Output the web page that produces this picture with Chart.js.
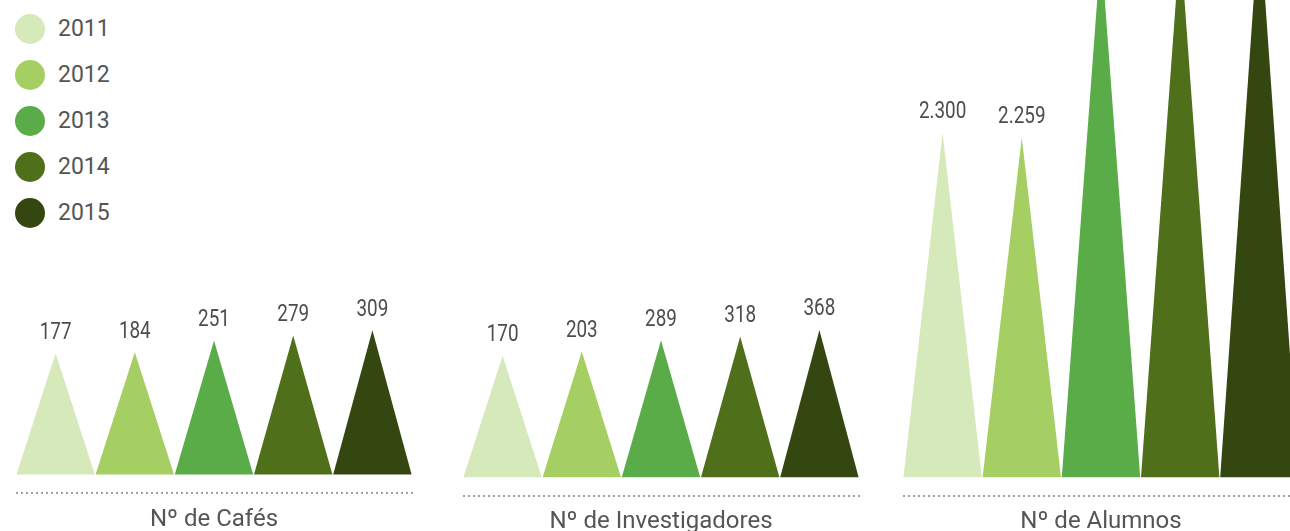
<!DOCTYPE html>
<html>
<head>
<meta charset="utf-8">
<script src="https://cdn.jsdelivr.net/npm/chart.js@4"></script>
<style>
  html, body { margin: 0; padding: 0; width: 1290px; height: 531px; overflow: hidden; background: #fff; font-family: Roboto, sans-serif; }
  .panel { position: absolute; top: 0; }
  #legend { position: absolute; left: 15px; top: 14px; }
  .item { display: flex; align-items: center; height: 30px; margin-bottom: 16px; }
  .dot { width: 30px; height: 30px; border-radius: 50%; margin-right: 13px; }
  .lbl { font-size: 23px; color: #555; line-height: 30px; }
</style>
</head>
<body>
<div id="legend"></div>
<canvas id="c0" class="panel" width="400" height="531"></canvas>
<canvas id="c1" class="panel" width="400" height="531"></canvas>
<canvas id="c2" class="panel" width="400" height="531"></canvas>
<script>
// ---- data ----
const years = ['2011', '2012', '2013', '2014', '2015'];
const yearColors = ['#d6e9ba', '#a5cf63', '#5aac48', '#506f1a', '#354710'];
const groupNames = ['Nº de Cafés', 'Nº de Investigadores', 'Nº de Alumnos'];
const cafes = [177, 184, 251, 279, 309];
const investigadores = [170, 203, 289, 318, 368];
const alumnos = [2300, 2259, 3900, 3960, 4170];
const groupValues = [cafes, investigadores, alumnos];

// ---- layout (per panel scales and positions) ----
const panels = [
  { left: 16,  yMin: -519, yMax: 2207, padTop: 31.1, padBottom: -3.4, lineOffset: 18.2 },
  { left: 463, yMin: -765, yMax: 2906, padTop: 30.3, padBottom: -5.4, lineOffset: 18.7 },
  { left: 903, yMin: -696, yMax: 3454, padTop: 30.3, padBottom: -5.4, lineOffset: 18.7 }
];

Chart.defaults.font.family = 'Roboto, sans-serif';

function fmt(v) {
  return String(v).replace(/\B(?=(\d{3})+(?!\d))/g, '.');
}

// legend
const legend = document.getElementById('legend');
years.forEach((y, i) => {
  const it = document.createElement('div');
  it.className = 'item';
  it.innerHTML = '<div class="dot" style="background:' + yearColors[i] + '"></div><div class="lbl">' + y + '</div>';
  legend.appendChild(it);
});

const trianglePlugin = {
  id: 'triangles',
  beforeDatasetDraw(chart, args) {
    const ctx = chart.ctx;
    const meta = args.meta;
    const ds = chart.data.datasets[args.index];
    meta.data.forEach((el, i) => {
      const p = el.getProps(['x', 'y', 'base', 'width'], true);
      ctx.save();
      ctx.fillStyle = ds.backgroundColor[i];
      ctx.beginPath();
      ctx.moveTo(p.x - p.width / 2, p.base);
      ctx.lineTo(p.x, p.y);
      ctx.lineTo(p.x + p.width / 2, p.base);
      ctx.closePath();
      ctx.fill();
      ctx.restore();
      // value label
      ctx.save();
      ctx.translate(p.x, p.y - 14.5);
      ctx.scale(0.82, 1);
      ctx.fillStyle = '#4d4d4d';
      ctx.font = '23px Roboto';
      ctx.textAlign = 'center';
      ctx.textBaseline = 'alphabetic';
      ctx.fillText(fmt(ds.data[i]), 0, 0);
      ctx.restore();
    });
    return false;
  },
  afterDraw(chart) {
    const ctx = chart.ctx;
    const a = chart.chartArea;
    const off = chart.options.plugins.triangles.lineOffset;
    ctx.save();
    ctx.strokeStyle = '#a0a0a0';
    ctx.lineWidth = 2;
    ctx.setLineDash([2, 3]);
    ctx.beginPath();
    const y = Math.round(a.bottom + off);
    ctx.moveTo(a.left, y);
    ctx.lineTo(a.right + 3, y);
    ctx.stroke();
    ctx.restore();
  }
};

panels.forEach((pn, k) => {
  const cv = document.getElementById('c' + k);
  cv.style.left = pn.left + 'px';
  new Chart(cv, {
    type: 'bar',
    data: {
      labels: years,
      datasets: [{
        data: groupValues[k],
        base: pn.yMin,
        backgroundColor: yearColors,
        barPercentage: 0.99,
        categoryPercentage: 1
      }]
    },
    options: {
      responsive: false,
      animation: false,
      events: [],
      layout: { padding: { left: 0, right: 4, top: 0, bottom: 0 } },
      plugins: {
        legend: { display: false },
        tooltip: { enabled: false },
        triangles: { lineOffset: pn.lineOffset }
      },
      scales: {
        x: {
          display: true,
          grid: { display: false, drawTicks: false, tickLength: 0 },
          border: { display: false },
          ticks: { display: false, padding: 0 },
          title: {
            display: true,
            text: groupNames[k],
            color: '#555',
            font: { size: 24, family: 'Roboto' },
            padding: { top: pn.padTop, bottom: pn.padBottom }
          }
        },
        y: { display: false, min: pn.yMin, max: pn.yMax }
      }
    },
    plugins: [trianglePlugin]
  });
});
</script>
</body>
</html>
